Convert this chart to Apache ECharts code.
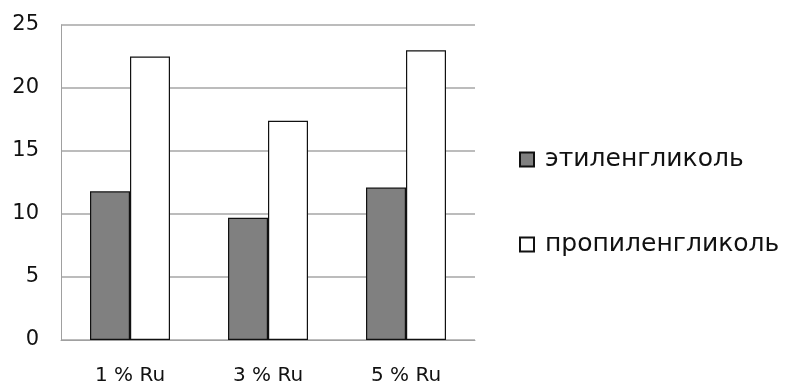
<!DOCTYPE html>
<html>
<head>
<meta charset="utf-8">
<script src="https://cdn.jsdelivr.net/npm/echarts@6/dist/echarts.min.js"></script>
<style>
  html, body { margin: 0; padding: 0; background: #fff; }
  #chart { width: 790px; height: 387px; }
</style>
</head>
<body>
<div id="chart"></div>
<script>
// Catalyst loading categories
const categories = ['1 % Ru', '3 % Ru', '5 % Ru'];
// Glycol yields per catalyst
const ethyleneGlycol = [11.8, 9.7, 12.1];
const propyleneGlycol = [22.5, 17.4, 23.0];
const seriesNames = ['этиленгликоль', 'пропиленгликоль'];

const FONT = 'DejaVu Sans';
const chart = echarts.init(document.getElementById('chart'), null, { renderer: 'canvas' });

chart.setOption({
  animation: false,
  backgroundColor: '#ffffff',
  grid: { left: 61, right: 315, top: 25, bottom: 47, containLabel: false },
  legend: {
    orient: 'vertical',
    left: 514,
    top: 142,
    itemWidth: 14,
    itemHeight: 14,
    itemGap: 60,
    icon: 'rect',
    textStyle: { fontFamily: FONT, fontSize: 25, color: '#111', padding: [0, 0, 0, 6] },
    data: seriesNames
  },
  xAxis: {
    type: 'category',
    data: categories,
    axisLine: { show: true, lineStyle: { color: '#a0a0a0', width: 1 } },
    axisTick: { show: false },
    axisLabel: { fontFamily: FONT, fontSize: 20, color: '#111', margin: 26 },
    splitLine: { show: false }
  },
  yAxis: {
    type: 'value',
    min: 0,
    max: 25,
    interval: 5,
    axisLine: { show: true, lineStyle: { color: '#a0a0a0', width: 1 } },
    axisTick: { show: false },
    axisLabel: { fontFamily: FONT, fontSize: 21, color: '#111', margin: 22 },
    splitLine: { show: true, lineStyle: { color: '#a6a6a6', width: 1.5 } }
  },
  series: [
    {
      name: seriesNames[0],
      type: 'bar',
      data: ethyleneGlycol,
      barWidth: 40,
      barGap: '0%',
      itemStyle: { color: '#808080', borderColor: '#111', borderWidth: 1.2 }
    },
    {
      name: seriesNames[1],
      type: 'bar',
      data: propyleneGlycol,
      barWidth: 40,
      barGap: '0%',
      itemStyle: { color: '#ffffff', borderColor: '#111', borderWidth: 1.2 }
    }
  ]
});
</script>
</body>
</html>
